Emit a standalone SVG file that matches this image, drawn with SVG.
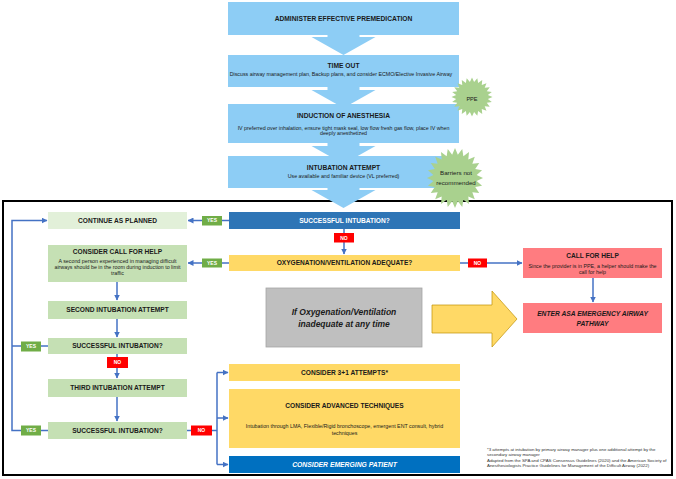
<svg xmlns="http://www.w3.org/2000/svg" xmlns:xlink="http://www.w3.org/1999/xlink" width="676" height="479" viewBox="0 0 676 479">
<style>
text{font-family:"Liberation Sans",Arial,sans-serif;text-anchor:middle;fill:#1a1a1a}
.t{font-weight:bold;font-size:6.7px}
.s{font-size:5.3px}
.w{fill:#fff}
.lbl{font-weight:bold;font-size:5px;fill:#fff}
.bi{font-weight:bold;font-style:italic}
.top{fill:#8DCDF5}
.lg{fill:#C5E0B4}
.yl{fill:#FFD966}
.sal{fill:#FF7C80}
.yes{fill:#70AD47}
.no{fill:#FF0000}
.con{fill:none;stroke:#4472C4;stroke-width:1.5}
.star{fill:#A9D18E}
.fn{font-size:4.4px;text-anchor:start;fill:#333}
</style>
<defs>
<marker id="ah" markerUnits="userSpaceOnUse" markerWidth="6" markerHeight="6" refX="5.5" refY="3" orient="auto">
<path d="M0,0 L6,3 L0,6 z" fill="#4472C4"/>
</marker>
<polygon id="starShape" points="10,0 7.73,1.02 9.66,2.59 7.21,2.98 8.66,5 6.19,4.75 7.07,7.07 4.75,6.19 5,8.66 2.98,7.21 2.59,9.66 1.02,7.73 0,10 -1.02,7.73 -2.59,9.66 -2.98,7.21 -5,8.66 -4.75,6.19 -7.07,7.07 -6.19,4.75 -8.66,5 -7.21,2.98 -9.66,2.59 -7.73,1.02 -10,0 -7.73,-1.02 -9.66,-2.59 -7.21,-2.98 -8.66,-5 -6.19,-4.75 -7.07,-7.07 -4.75,-6.19 -5,-8.66 -2.98,-7.21 -2.59,-9.66 -1.02,-7.73 0,-10 1.02,-7.73 2.59,-9.66 2.98,-7.21 5,-8.66 4.75,-6.19 7.07,-7.07 6.19,-4.75 8.66,-5 7.21,-2.98 9.66,-2.59 7.73,-1.02"/>
</defs>
<rect width="676" height="479" fill="#fff"/>

<!-- frame -->
<rect id="frame" x="3" y="201" width="669" height="274" fill="#fff" stroke="#000" stroke-width="2"/>

<!-- top flow arrows -->
<g id="topArrows" class="top">
<polygon points="327.5,30 359.5,30 359.5,37 375.5,37 343.5,55 311.5,37 327.5,37"/>
<polygon points="327.5,85 359.5,85 359.5,90 375.5,90 343.5,108 311.5,90 327.5,90"/>
<polygon points="327.5,140 359.5,140 359.5,146 375.5,146 343.5,164 311.5,146 327.5,146"/>
</g>

<g id="premed">
<rect class="top" x="228" y="2" width="231" height="33"/>
<text class="t" x="343.5" y="20.9">ADMINISTER EFFECTIVE PREMEDICATION</text>
</g>
<g id="timeout">
<rect class="top" x="228" y="55" width="231" height="32"/>
<text class="t" x="343.5" y="68.4">TIME OUT</text>
<text class="s" x="341" y="76.2">Discuss airway management plan, Backup plans, and consider ECMO/Elective Invasive Airway</text>
</g>
<g id="induction">
<rect class="top" x="228" y="104" width="231" height="39"/>
<text class="t" x="343.5" y="118.1">INDUCTION OF ANESTHESIA</text>
<text class="s" x="343.5" y="129.9">IV preferred over inhalation, ensure tight mask seal, low flow fresh gas flow, place IV when</text>
<text class="s" x="343.5" y="135.3">deeply anesthetized</text>
</g>
<g id="attempt">
<rect class="top" x="228" y="156" width="231" height="32"/>
<text class="t" x="343.5" y="170.1">INTUBATION ATTEMPT</text>
<text class="s" x="343.5" y="177.9">Use available and familiar device (VL preferred)</text>
</g>
<g id="topArrowLast" class="top">
<polygon points="327.5,188 359.5,188 359.5,190 375.5,190 343.5,208 311.5,190 327.5,190"/>
</g>

<g id="ppe">
<use xlink:href="#starShape" class="star" transform="translate(472,97) scale(2.05,1.95)"/>
<text x="472" y="100.5" style="font-size:5.6px">PPE</text>
</g>
<g id="barriers">
<use xlink:href="#starShape" class="star" transform="translate(455,178) scale(2.8,3)"/>
<text x="456" y="175.3" style="font-size:6.2px">Barriers not</text>
<text x="456" y="184.7" style="font-size:6.2px">recommended</text>
</g>

<!-- connectors -->
<g id="connectors">
<path class="con" d="M229,220.5 H188" marker-end="url(#ah)"/>
<path class="con" d="M229,263 H188" marker-end="url(#ah)"/>
<path class="con" d="M344,229 V254" marker-end="url(#ah)"/>
<path class="con" d="M460,263 H522" marker-end="url(#ah)"/>
<path class="con" d="M593,278 V302" marker-end="url(#ah)"/>
<path class="con" d="M117,282 V300" marker-end="url(#ah)"/>
<path class="con" d="M117,319 V337" marker-end="url(#ah)"/>
<path class="con" d="M117,354 V378" marker-end="url(#ah)"/>
<path class="con" d="M117,397 V421" marker-end="url(#ah)"/>
<path class="con" d="M48,430.5 H12 V220.5 H47" marker-end="url(#ah)"/>
<path class="con" d="M48,346 H12"/>
<path class="con" d="M187,430.5 H217"/>
<path class="con" d="M217,372.5 V464.5"/>
<path class="con" d="M217,372.5 H228" marker-end="url(#ah)"/>
<path class="con" d="M217,418 H228" marker-end="url(#ah)"/>
<path class="con" d="M217,464.5 H228" marker-end="url(#ah)"/>
<rect class="yes" x="202" y="216" width="20" height="9.5"/><text class="lbl" x="212" y="222.3">YES</text>
<rect class="yes" x="202" y="258.5" width="20" height="9"/><text class="lbl" x="212" y="264.8">YES</text>
<rect class="no" x="334" y="233" width="20" height="9.5"/><text class="lbl" x="344" y="239.5">NO</text>
<rect class="no" x="468" y="258.5" width="19" height="9"/><text class="lbl" x="477.5" y="264.8">NO</text>
<rect class="yes" x="21" y="341.5" width="20" height="10"/><text class="lbl" x="31" y="348.3">YES</text>
<rect class="no" x="107" y="357" width="21" height="11"/><text class="lbl" x="117.5" y="364.3">NO</text>
<rect class="yes" x="21" y="425.5" width="20" height="10"/><text class="lbl" x="31" y="432.3">YES</text>
<rect class="no" x="191" y="425.5" width="21" height="10"/><text class="lbl" x="201.5" y="432.3">NO</text>
</g>

<g id="continue">
<rect x="48" y="212" width="139" height="17" fill="#E2F0D9"/>
<text class="t" style="font-size:6.6px" x="117.5" y="222.9">CONTINUE AS PLANNED</text>
</g>
<g id="success1">
<rect x="229" y="212" width="231" height="17" fill="#2E75B6"/>
<text class="t w" style="font-size:6.6px" x="344.5" y="222.9">SUCCESSFUL INTUBATION?</text>
</g>
<g id="oxygenation">
<rect class="yl" x="229" y="255" width="231" height="16"/>
<text class="t" style="font-size:6.6px" x="344.5" y="265.4">OXYGENATION/VENTILATION ADEQUATE?</text>
</g>
<g id="considerHelp">
<rect class="lg" x="48" y="245" width="139" height="37"/>
<text class="t" style="font-size:6.6px" x="117.5" y="253.5">CONSIDER CALL FOR HELP</text>
<text class="s" x="117.5" y="262.6">A second person experienced in managing difficult</text>
<text class="s" x="117.5" y="268.6">airways should be in the room during induction to limit</text>
<text class="s" x="117.5" y="274.6">traffic</text>
</g>
<g id="callHelp">
<rect class="sal" x="523" y="248" width="139" height="30"/>
<text class="t" style="font-size:6.6px" x="592.5" y="258.4">CALL FOR HELP</text>
<text class="s" x="592.5" y="267.5">Since the provider is in PPE, a helper should make the</text>
<text class="s" x="592.5" y="274.1">call for help</text>
</g>
<g id="inadequate">
<rect x="266" y="288" width="156" height="59" fill="#BFBFBF" stroke="#A5A5A5" stroke-width="0.8"/>
<text class="bi" style="font-size:8.5px" x="344" y="315.3">If Oxygenation/Ventilation</text>
<text class="bi" style="font-size:8.5px" x="344" y="327.3">inadequate at any time</text>
</g>
<g id="bigArrow">
<polygon points="432,305 492,305 492,291 517,319 492,347 492,333 432,333" fill="#FFD966" stroke="#BF9000" stroke-width="0.7"/>
</g>
<g id="asa">
<rect class="sal" x="523" y="303" width="139" height="30"/>
<text class="bi" style="font-size:6.7px" x="592.5" y="315.7">ENTER ASA EMERGENCY AIRWAY</text>
<text class="bi" style="font-size:6.7px" x="592.5" y="326.4">PATHWAY</text>
</g>
<g id="second">
<rect class="lg" x="48" y="301" width="139" height="18"/>
<text class="t" style="font-size:6.6px" x="117.5" y="312.4">SECOND INTUBATION ATTEMPT</text>
</g>
<g id="success2">
<rect class="lg" x="48" y="338" width="139" height="16"/>
<text class="t" style="font-size:6.6px" x="117.5" y="348.4">SUCCESSFUL INTUBATION?</text>
</g>
<g id="third">
<rect class="lg" x="48" y="379" width="139" height="18"/>
<text class="t" style="font-size:6.6px" x="117.5" y="390.4">THIRD INTUBATION ATTEMPT</text>
</g>
<g id="success3">
<rect class="lg" x="48" y="422" width="139" height="17"/>
<text class="t" style="font-size:6.6px" x="117.5" y="432.9">SUCCESSFUL INTUBATION?</text>
</g>
<g id="attempts31">
<rect class="yl" x="229" y="364" width="231" height="17"/>
<text class="t" style="font-size:6.6px" x="344.5" y="374.9">CONSIDER 3+1 ATTEMPTS*</text>
</g>
<g id="advanced">
<rect class="yl" x="229" y="389" width="231" height="59"/>
<text class="t" style="font-size:6.6px" x="344.5" y="408.1">CONSIDER ADVANCED TECHNIQUES</text>
<text class="s" x="344.5" y="427.8">Intubation through LMA, Flexible/Rigid bronchoscope, emergent ENT consult, hybrid</text>
<text class="s" x="344.5" y="434.6">techniques</text>
</g>
<g id="emerging">
<rect x="229" y="456" width="231" height="17" fill="#0070C0"/>
<text class="bi w" style="font-size:6.8px" x="344.5" y="466.9">CONSIDER EMERGING PATIENT</text>
</g>
<g id="footnote">
<text class="fn" x="487" y="450.5">*3 attempts at intubation by primary airway manager plus one additional attempt by the</text>
<text class="fn" x="487" y="455.9">secondary airway manager</text>
<text class="fn" x="487" y="461.6">Adapted from the SPA and CPAS Consensus Guidelines (2020) and the American Society of</text>
<text class="fn" x="487" y="467.3">Anesthesiologists Practice Guidelines for Management of the Difficult Airway (2022)</text>
</g>
</svg>
